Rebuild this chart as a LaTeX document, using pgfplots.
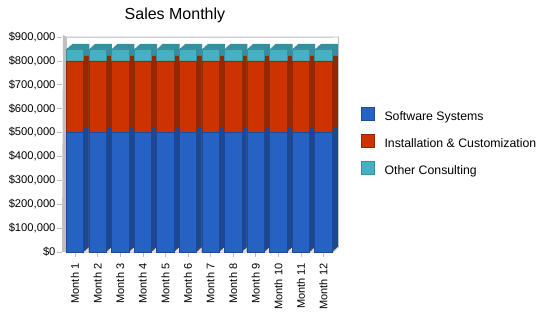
\documentclass[border=0pt]{standalone}
\usepackage{fontspec}
\setmainfont{Liberation Sans}
\usepackage{pgfplots}
\usepackage{pgfplotstable}
\pgfplotsset{compat=1.18}
\definecolor{blueF}{HTML}{2662C3}
\definecolor{blueS}{HTML}{1D4890}
\definecolor{blueL}{HTML}{1C4A98}
\definecolor{redF}{HTML}{CC3300}
\definecolor{redS}{HTML}{962800}
\definecolor{cyanF}{HTML}{45B1C3}
\definecolor{cyanS}{HTML}{378E9C}
\definecolor{wallg}{HTML}{C0C0C0}
\definecolor{floorg}{HTML}{E2E2E2}
\definecolor{gridg}{HTML}{DADADA}
\pgfplotstableread{
x s i o
0 500000 300000 50000
1 500000 300000 50000
2 500000 300000 50000
3 500000 300000 50000
4 500000 300000 50000
5 500000 300000 50000
6 500000 300000 50000
7 500000 300000 50000
8 500000 300000 50000
9 500000 300000 50000
10 500000 300000 50000
11 500000 300000 50000
}\sales
\newcommand\depthcopy[2]{%
 \addplot[forget plot, fill=cyanS, draw=none, bar shift=0pt, xshift=#1, yshift=#2] table[x=x, y expr=\thisrow{s}+\thisrow{i}+\thisrow{o}]{\sales};
 \addplot[forget plot, fill=redS, draw=none, bar shift=0pt, xshift=#1, yshift=#2] table[x=x, y expr=\thisrow{s}+\thisrow{i}]{\sales};
 \addplot[forget plot, fill=blueS, draw=none, bar shift=0pt, xshift=#1, yshift=#2] table[x=x, y=s]{\sales};
}
\begin{document}
\begin{tikzpicture}
\path[use as bounding box] (0,0) rectangle (550pt,318pt);
\begin{axis}[
  at={(66pt,66pt)}, anchor=south west,
  scale only axis, width=267pt, height=215pt,
  clip=false,
  ybar, bar width=17.5pt,
  xmin=-0.4, xmax=11.42, ymin=0, ymax=900000,
  xtick={0,...,11},
  xticklabels={Month 1,Month 2,Month 3,Month 4,Month 5,Month 6,Month 7,Month 8,Month 9,Month 10,Month 11,Month 12},
  xticklabel style={rotate=90, anchor=east, inner xsep=6.5pt, font=\fontsize{11}{13}\selectfont},
  ytick={0,100000,...,900000},
  scaled y ticks=false,
  /pgf/number format/assume math mode=true,
  yticklabel={\$\pgfmathprintnumber[fixed, precision=0, 1000 sep={,}]{\tick}},
  yticklabel style={font=\fontsize{11.2}{13}\selectfont, xshift=-2pt},
  axis line style={draw=none},
  xtick pos=bottom, ytick pos=left,
  tick align=outside, major tick length=5pt,
  tick style={gridg!70!gray, line width=0.6pt},
  ytick style={xshift=-4pt},
  ymajorgrids, grid style={gridg, line width=0.6pt},
  title={Sales Monthly},
  title style={at={(0.408,1)}, anchor=base, yshift=12pt, font=\fontsize{16}{19}\selectfont},
  legend style={draw=none, at={(1.105,0.677)}, anchor=north west, font=\fontsize{12.3}{14}\selectfont, row sep=9.5pt, inner sep=0pt},
  legend cell align=left,
  reverse legend,
  legend image code/.code={\draw[#1, bar shift=0pt, xshift=0pt, yshift=0pt] (0pt,-3pt) rectangle (13pt,10pt); \path[draw=none, fill=none] (13pt,0pt) -- (21pt,0pt);},
]
% floor and walls
\fill[floorg] (axis cs:-0.4,0) -- (axis cs:11.42,0) -- ([xshift=5.5pt,yshift=5pt]axis cs:11.42,0) -- ([xshift=5.5pt,yshift=5pt]axis cs:-0.4,0) -- cycle;
\fill[wallg] ([xshift=-4pt]axis cs:-0.4,0) -- (axis cs:-0.4,0) -- ([xshift=1pt]axis cs:-0.4,900000) -- ([xshift=-3pt,yshift=2pt]axis cs:-0.4,900000) -- cycle;
\draw[wallg, line width=0.8pt] ([xshift=1pt]axis cs:-0.4,900000) -- ([xshift=5.5pt]axis cs:11.42,900000) -- ([xshift=5.5pt,yshift=5pt]axis cs:11.42,0) -- (axis cs:11.42,0);
% depth faces
\depthcopy{0.92pt}{0.83pt}
\depthcopy{1.83pt}{1.67pt}
\depthcopy{2.75pt}{2.5pt}
\depthcopy{3.67pt}{3.33pt}
\depthcopy{4.58pt}{4.17pt}
\depthcopy{5.5pt}{5pt}
% front faces
\addplot[fill=cyanF, draw=cyanS, line width=0.6pt, bar shift=0pt] table[x=x, y expr=\thisrow{s}+\thisrow{i}+\thisrow{o}]{\sales};
\addlegendentry{Other Consulting}
\addplot[fill=redF, draw=redS, line width=0.6pt, bar shift=0pt] table[x=x, y expr=\thisrow{s}+\thisrow{i}]{\sales};
\addlegendentry{Installation \& Customization}
\addplot[fill=blueF, draw=blueL, line width=0.6pt, bar shift=0pt] table[x=x, y=s]{\sales};
\addlegendentry{Software Systems}
\end{axis}
\end{tikzpicture}
\end{document}
